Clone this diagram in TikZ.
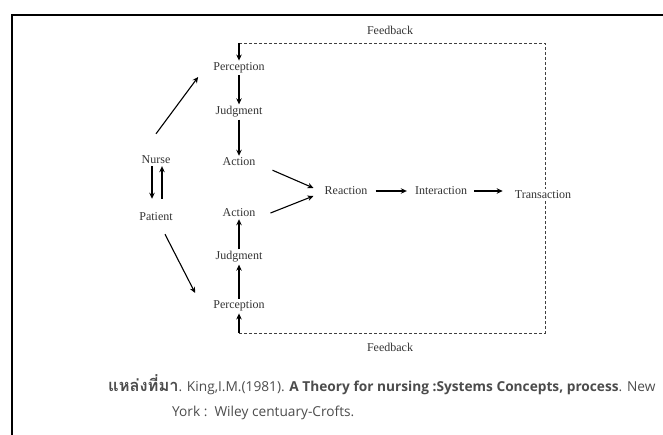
\documentclass[tikz,border=0pt]{standalone}
\usepackage{fontspec}
\setmainfont{Liberation Serif}
\newfontfamily\thaifont[Script=Thai,Scale=1.2]{Loma}
\newfontfamily\citefont{Open Sans}
\usepackage{tikz}
\usetikzlibrary{arrows.meta, positioning}

\begin{document}
\begin{tikzpicture}[x=1pt, y=-1pt,
    every node/.style={inner sep=2pt, text=black!80},
    word/.style={font=\fontsize{12}{14}\selectfont},
    cite/.style={font=\citefont\fontsize{13.7}{16}\selectfont, text=black!70, anchor=west},
    arr/.style={-{Stealth[length=6pt,width=5.5pt]}, line width=1.1pt},
    fb/.style={dash pattern=on 3pt off 2pt, line width=0.8pt, black!75}]
    \useasboundingbox (0,0) rectangle (663,435);
    \draw [line width=2pt] (12,435) -- (12,15) -- (663,15);

    \node (nurse) [word] at (156,160) {Nurse};
    \node (patient) [word] at (156,217) {Patient};
    \node (perctop) [word] at (239,68) {Perception};
    \node (judgtop) [word] at (239,112) {Judgment};
    \node (acttop) [word] at (239,162) {Action};
    \node (actbot) [word] at (239,213) {Action};
    \node (judgbot) [word] at (239,257) {Judgment};
    \node (percbot) [word] at (239,306) {Perception};
    \node (reaction) [word] at (346,191) {Reaction};
    \node (interaction) [word] at (441,191) {Interaction};
    \node (transaction) [word] at (543,195) {Transaction};
    \node (fbtop) [word] at (390,30) {Feedback};
    \node (fbbot) [word] at (390,347) {Feedback};

    \coordinate (tl) at (239,43);
    \coordinate (tr) at (545,43);
    \coordinate (br) at (545,333);
    \coordinate (bl) at (239,333);

    % feedback loop
    \draw [fb] (tl) -- (tr) -- (transaction.north -| tr);
    \draw [fb] (transaction.south -| br) -- (br) -- (bl);
    \draw [arr] (tl) -- (perctop.north);
    \draw [arr] (bl) -- (percbot.south);

    \draw [arr] ([yshift=20pt]nurse.north) -- ([xshift=-13pt,yshift=-9pt]perctop.west);
    \draw [arr] ([xshift=9pt,yshift=-11pt]patient.south) -- ([xshift=-16pt,yshift=13pt]percbot.west);
    \draw [arr] ([xshift=-4pt]nurse.south) -- ([xshift=-4pt,yshift=12pt]patient.north);
    \draw [arr] ([xshift=6pt,yshift=12pt]patient.north) -- ([xshift=6pt]nurse.south);

    \draw [arr] (perctop) -- (judgtop);
    \draw [arr] (judgtop) -- (acttop);
    \draw [arr] (percbot) -- (judgbot);
    \draw [arr] (judgbot) -- (actbot);

    \draw [arr] ([xshift=15pt,yshift=-2pt]acttop.south east) -- ([xshift=-9pt,yshift=3pt]reaction.west);
    \draw [arr] ([xshift=13pt]actbot.east) -- ([xshift=-9pt,yshift=-5pt]reaction.west);
    \draw [arr, shorten <=6pt, shorten >=6pt] (reaction) -- (interaction);
    \draw [arr, shorten <=5pt, shorten >=10pt] (interaction.east) -- (interaction.east -| transaction.west);

    \node (src1) [cite] at (106,385) {{\thaifont\bfseries แหล่งที่มา}. King,I.M.(1981). {\bfseries A Theory for nursing :Systems Concepts, process}. New};
    \node (src2) [cite] at (170,413) {York :\ \ Wiley centuary-Crofts.};
\end{tikzpicture}
\end{document}
